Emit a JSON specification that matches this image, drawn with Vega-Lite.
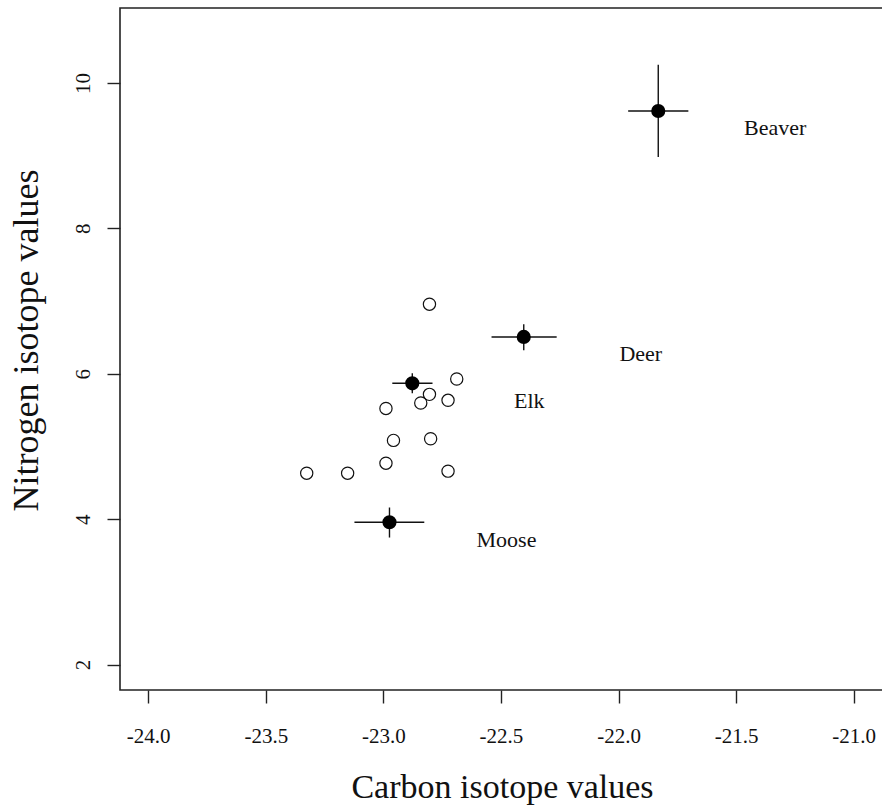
{
  "$schema": "https://vega.github.io/schema/vega-lite/v6.json",
  "width": 764,
  "height": 682,
  "autosize": {"type": "none"},
  "padding": {"left": 120, "top": 8, "right": 0, "bottom": 116},
  "background": "white",
  "datasets": {
    "samples": [
      {"c": -22.804, "n": 6.956},
      {"c": -22.688, "n": 5.927},
      {"c": -22.804, "n": 5.716},
      {"c": -22.841, "n": 5.597},
      {"c": -22.725, "n": 5.634},
      {"c": -22.989, "n": 5.523},
      {"c": -22.957, "n": 5.083},
      {"c": -22.799, "n": 5.106},
      {"c": -22.989, "n": 4.770},
      {"c": -23.326, "n": 4.632},
      {"c": -23.152, "n": 4.632},
      {"c": -22.725, "n": 4.660}
    ],
    "species": [
      {"species": "Beaver", "c": -21.831, "n": 9.614, "c_lo": -21.959, "c_hi": -21.703, "n_lo": 8.981, "n_hi": 10.248},
      {"species": "Deer", "c": -22.403, "n": 6.506, "c_lo": -22.540, "c_hi": -22.263, "n_lo": 6.322, "n_hi": 6.680},
      {"species": "Elk", "c": -22.877, "n": 5.868, "c_lo": -22.962, "c_hi": -22.791, "n_lo": 5.730, "n_hi": 6.006},
      {"species": "Moose", "c": -22.974, "n": 3.957, "c_lo": -23.123, "c_hi": -22.826, "n_lo": 3.747, "n_hi": 4.160}
    ]
  },
  "config": {
    "view": {"stroke": "#222222", "strokeWidth": 1.6},
    "font": "Liberation Serif",
    "axis": {
      "domain": false,
      "grid": false,
      "tickSize": 13,
      "tickWidth": 1.4,
      "tickColor": "#222222",
      "labelFont": "Liberation Serif",
      "labelFontSize": 21,
      "labelColor": "#111111",
      "titleFont": "Liberation Serif",
      "titleFontSize": 34,
      "titleFontWeight": "normal",
      "titleColor": "#111111"
    },
    "axisX": {
      "labelPadding": 22,
      "labelBaseline": "top",
      "titleBaseline": "alphabetic",
      "titleY": 107
    },
    "axisY": {
      "labelAngle": -90,
      "labelAlign": "center",
      "labelBaseline": "bottom",
      "labelPadding": 14,
      "titleAngle": -90,
      "titleFontSize": 36,
      "titleBaseline": "alphabetic",
      "titleX": -83,
      "titleY": 332
    }
  },
  "layer": [
    {
      "data": {"name": "samples"},
      "mark": {"type": "point", "shape": "circle", "filled": false, "stroke": "#111111", "strokeWidth": 1.2, "size": 150, "opacity": 1},
      "encoding": {
        "x": {
          "field": "c", "type": "quantitative",
          "scale": {"domain": [-24.12, -20.871], "nice": false, "zero": false},
          "axis": {
            "values": [-24, -23.5, -23, -22.5, -22, -21.5, -21],
            "format": ".1f",
            "labelExpr": "replace(datum.label, '\u2212', '-')"
          },
          "title": "Carbon isotope values"
        },
        "y": {
          "field": "n", "type": "quantitative",
          "scale": {"domain": [1.65, 11.03], "nice": false, "zero": false},
          "axis": {"values": [2, 4, 6, 8, 10], "format": "d"},
          "title": "Nitrogen isotope values"
        }
      }
    },
    {
      "data": {"name": "species"},
      "mark": {"type": "rule", "stroke": "#111111", "strokeWidth": 1.4},
      "encoding": {
        "x": {"field": "c_lo", "type": "quantitative", "title": "Carbon isotope values"},
        "x2": {"field": "c_hi"},
        "y": {"field": "n", "type": "quantitative", "title": "Nitrogen isotope values"}
      }
    },
    {
      "data": {"name": "species"},
      "mark": {"type": "rule", "stroke": "#111111", "strokeWidth": 1.4},
      "encoding": {
        "x": {"field": "c", "type": "quantitative", "title": "Carbon isotope values"},
        "y": {"field": "n_lo", "type": "quantitative", "title": "Nitrogen isotope values"},
        "y2": {"field": "n_hi"}
      }
    },
    {
      "data": {"name": "species"},
      "mark": {"type": "point", "shape": "circle", "filled": true, "fill": "#000000", "size": 200, "opacity": 1},
      "encoding": {
        "x": {"field": "c", "type": "quantitative", "title": "Carbon isotope values"},
        "y": {"field": "n", "type": "quantitative", "title": "Nitrogen isotope values"}
      }
    },
    {
      "data": {"name": "species"},
      "mark": {"type": "text", "font": "Liberation Serif", "fontSize": 22, "color": "#111111", "align": "center", "baseline": "alphabetic", "dx": 117, "dy": 24.5},
      "encoding": {
        "x": {"field": "c", "type": "quantitative", "title": "Carbon isotope values"},
        "y": {"field": "n", "type": "quantitative", "title": "Nitrogen isotope values"},
        "text": {"field": "species"}
      }
    }
  ]
}
